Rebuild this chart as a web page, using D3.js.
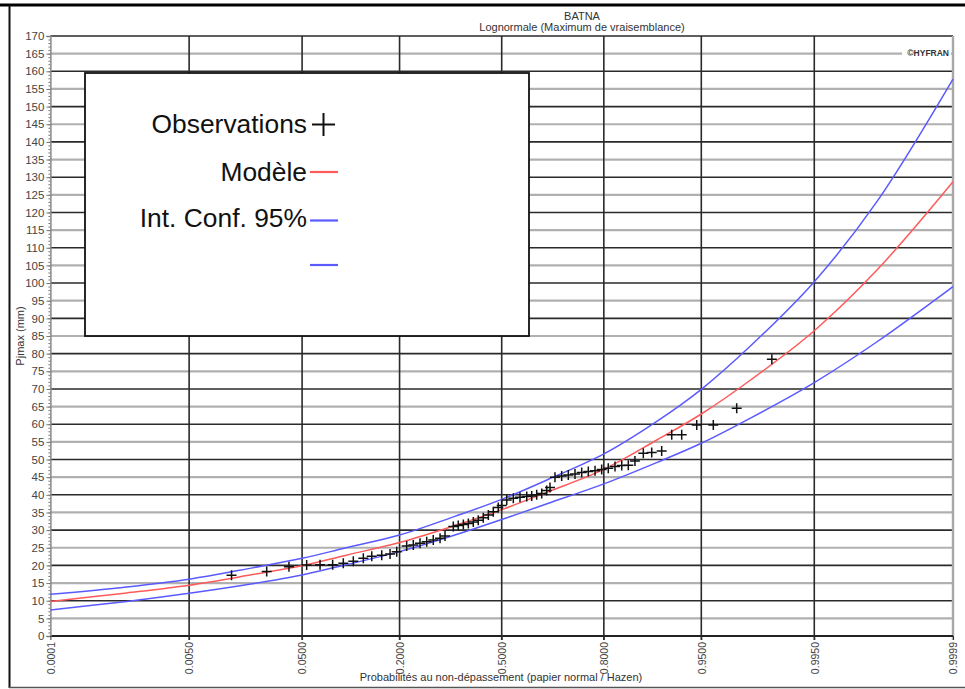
<!DOCTYPE html>
<html>
<head>
<meta charset="utf-8">
<script src="https://cdn.jsdelivr.net/npm/d3@7"></script>
<style>
  html, body { margin: 0; padding: 0; background: #fff; }
  svg { display: block; font-family: "Liberation Sans", Arial, sans-serif; }
</style>
</head>
<body>
<svg id="chart" width="965" height="689"></svg>
<script>
// Probability axis (normal paper) ticks
const xTickProbs = [0.0001, 0.005, 0.05, 0.2, 0.5, 0.8, 0.95, 0.995, 0.9999];
const xTickLabels = ["0.0001", "0.0050", "0.0500", "0.2000", "0.5000", "0.8000", "0.9500", "0.9950", "0.9999"];

// Fitted lognormal quantiles and 95% confidence bounds (Pjmax, mm)
const curveProbs  = [0.0001, 0.001, 0.005, 0.02, 0.05, 0.1, 0.2, 0.35, 0.5, 0.65, 0.8, 0.9, 0.95, 0.98, 0.995, 0.999, 0.9999];
const modelValues = [9.8, 12.2, 14.4, 17.4, 19.9, 22.9, 26.5, 31.3, 35.8, 40.9, 47.2, 55.6, 62.9, 72.6, 86.5, 103.6, 128.7];
const upperValues = [11.8, 13.9, 16.1, 19.3, 22.0, 25.0, 28.6, 33.9, 38.7, 44.4, 51.6, 60.9, 69.9, 82.3, 100.4, 123.0, 157.8];
const lowerValues = [7.4, 9.8, 12.1, 14.8, 17.3, 20.2, 23.9, 28.6, 33.0, 37.6, 43.1, 49.2, 54.6, 61.8, 71.8, 83.3, 99.0];

// Observed annual maxima with their non-exceedance probabilities
const obsProbs = [0.0130, 0.0264, 0.0398, 0.0540, 0.0672, 0.0818, 0.0959, 0.1107, 0.1271, 0.1421,
  0.1614, 0.1788, 0.1935, 0.2168, 0.2332, 0.2504, 0.2683, 0.2864, 0.3057, 0.3202,
  0.3450, 0.3602, 0.3760, 0.3917, 0.4075, 0.4235, 0.4396, 0.4562, 0.4724, 0.4888,
  0.5000, 0.5165, 0.5381, 0.5599, 0.5817, 0.5977, 0.6135, 0.6293, 0.6447, 0.6547,
  0.6697, 0.6894, 0.7085, 0.7271, 0.7451, 0.7623, 0.7791, 0.7950, 0.8101, 0.8248,
  0.8387, 0.8516, 0.8639, 0.8784, 0.8918, 0.9063, 0.9194, 0.9310, 0.9460, 0.9594,
  0.9736, 0.9870];
const obsValues = [17.2, 18.3, 19.6, 20.1, 20.2, 20.2, 20.6, 21.2, 22.0, 22.6,
  22.9, 23.2, 23.9, 25.5, 25.8, 26.3, 26.7, 27.2, 27.7, 28.3,
  31.0, 31.3, 31.6, 31.9, 32.3, 32.8, 33.5, 34.3, 35.2, 36.4,
  37.0, 38.5, 39.0, 39.3, 39.5, 39.7, 40.0, 40.4, 41.2, 42.1,
  45.0, 45.3, 45.6, 45.9, 46.3, 46.6, 46.8, 47.2, 47.5, 48.0,
  48.3, 48.4, 49.6, 51.8, 52.0, 52.4, 57.0, 57.0, 59.8, 59.8,
  64.5, 78.4];

const yMax = 170;
const yMajorStep = 5;

// Inverse standard normal CDF (Acklam's rational approximation)
function probit(p) {
  const a = [-3.969683028665376e+01, 2.209460984245205e+02, -2.759285104469687e+02, 1.383577518672690e+02, -3.066479806614716e+01, 2.506628277459239e+00];
  const b = [-5.447609879822406e+01, 1.615858368580409e+02, -1.556989798598866e+02, 6.680131188771972e+01, -1.328068155288572e+01];
  const c = [-7.784894002430293e-03, -3.223964580411365e-01, -2.400758277161838e+00, -2.549671348283449e+00, 4.374664141464968e+00, 2.938163982698783e+00];
  const d = [7.784695709041462e-03, 3.224671290700398e-01, 2.445134137142996e+00, 3.754408661907416e+00];
  const pl = 0.02425, ph = 1 - pl;
  let q, r;
  if (p < pl) {
    q = Math.sqrt(-2 * Math.log(p));
    return (((((c[0]*q+c[1])*q+c[2])*q+c[3])*q+c[4])*q+c[5]) / ((((d[0]*q+d[1])*q+d[2])*q+d[3])*q+1);
  }
  if (p > ph) {
    q = Math.sqrt(-2 * Math.log(1 - p));
    return -(((((c[0]*q+c[1])*q+c[2])*q+c[3])*q+c[4])*q+c[5]) / ((((d[0]*q+d[1])*q+d[2])*q+d[3])*q+1);
  }
  q = p - 0.5; r = q * q;
  return (((((a[0]*r+a[1])*r+a[2])*r+a[3])*r+a[4])*r+a[5])*q / (((((b[0]*r+b[1])*r+b[2])*r+b[3])*r+b[4])*r+1);
}

const svg = d3.select("#chart");
const W = 965, H = 689;
const plot = { left: 50.4, right: 953, top: 36, bottom: 636 };

svg.append("rect").attr("width", W).attr("height", H).attr("fill", "#fff");

// Outer frame
svg.append("line").attr("x1", 0).attr("x2", W).attr("y1", 5).attr("y2", 5)
  .attr("stroke", "#000").attr("stroke-width", 3);
svg.append("line").attr("x1", 9.5).attr("x2", 9.5).attr("y1", 5).attr("y2", 688)
  .attr("stroke", "#111").attr("stroke-width", 2);
svg.append("line").attr("x1", 9).attr("x2", W).attr("y1", 687.5).attr("y2", 687.5)
  .attr("stroke", "#555").attr("stroke-width", 1.5);

// Scales: x in standard normal variate, labelled by probability
const zScale = d3.scaleLinear()
  .domain([probit(xTickProbs[0]), probit(xTickProbs[xTickProbs.length - 1])])
  .range([plot.left, plot.right]);
const px = p => zScale(probit(p));
const y = d3.scaleLinear().domain([0, yMax]).range([plot.bottom, plot.top]);

// Horizontal grid every 5 mm
const gridH = svg.append("g");
d3.range(yMajorStep, yMax + 1, yMajorStep).forEach(v => {
  const major = v % 10 === 0;
  gridH.append("line")
    .attr("x1", plot.left).attr("x2", plot.right)
    .attr("y1", y(v)).attr("y2", y(v))
    .attr("stroke", major ? "#2a2a2a" : "#b0b0b0")
    .attr("stroke-width", major ? 1.6 : 2.2);
});

// Vertical grid at probability ticks
const gridV = svg.append("g");
xTickProbs.slice(1).forEach((p, i, arr) => {
  const last = i === arr.length - 1;
  gridV.append("line")
    .attr("x1", px(p)).attr("x2", px(p))
    .attr("y1", plot.top).attr("y2", plot.bottom + 4)
    .attr("stroke", last ? "#a8a8a8" : "#2a2a2a")
    .attr("stroke-width", last ? 2.4 : 1.6);
});

// Base line
svg.append("line")
  .attr("x1", plot.left).attr("x2", plot.right)
  .attr("y1", y(0)).attr("y2", y(0))
  .attr("stroke", "#222").attr("stroke-width", 1.8);

// Y axis: minor ticks every unit, labelled ticks every 5
const yMinor = d3.axisLeft(y).tickValues(d3.range(0, yMax + 1, 1)).tickSize(2).tickFormat("");
svg.append("g").attr("transform", `translate(${plot.left},0)`).call(yMinor)
  .call(g => g.select(".domain").remove())
  .call(g => g.selectAll("line").attr("stroke", "#777"));
const yAxis = d3.axisLeft(y).tickValues(d3.range(0, yMax + 1, yMajorStep)).tickSize(4).tickPadding(2);
svg.append("g").attr("transform", `translate(${plot.left},0)`).call(yAxis)
  .call(g => g.select(".domain").attr("stroke", "#888").attr("stroke-width", 1.5))
  .call(g => g.selectAll("line").attr("stroke", "#777"))
  .call(g => g.selectAll("text").attr("fill", "#444").attr("font-size", 11.5)
    .attr("font-family", "'Liberation Sans', Arial, sans-serif"));

// X axis labels, rotated
const xAxis = d3.axisBottom(zScale)
  .tickValues(xTickProbs.map(probit))
  .tickFormat((d, i) => xTickLabels[i])
  .tickSize(4);
svg.append("g").attr("transform", `translate(0,${plot.bottom})`).call(xAxis)
  .call(g => g.select(".domain").remove())
  .call(g => g.selectAll("line").attr("stroke", "#333"))
  .call(g => g.selectAll("text")
    .attr("fill", "#444").attr("font-size", 10.5)
    .attr("font-family", "'Liberation Sans', Arial, sans-serif")
    .attr("text-anchor", "end")
    .attr("transform", "rotate(-90)")
    .attr("x", -6).attr("y", 0).attr("dy", "0.36em"));

// Curves
const line = d3.line()
  .x(d => px(d[0]))
  .y(d => y(d[1]))
  .curve(d3.curveCatmullRom.alpha(0.5));
const series = [
  { values: upperValues, color: "#5a5aff" },
  { values: lowerValues, color: "#5a5aff" },
  { values: modelValues, color: "#ff5a5a" }
];
series.forEach(s => {
  svg.append("path")
    .datum(curveProbs.map((p, i) => [p, s.values[i]]))
    .attr("d", line)
    .attr("fill", "none")
    .attr("stroke", s.color)
    .attr("stroke-width", 1.5);
});

// Observations as crosses
const arm = 5;
const obs = svg.append("g").attr("stroke", "#111").attr("stroke-width", 1.5);
obsProbs.forEach((p, i) => {
  const cx = px(p), cy = y(obsValues[i]);
  obs.append("path").attr("d", `M${cx - arm},${cy}H${cx + arm}M${cx},${cy - arm}V${cy + arm}`);
});

// Legend
const lg = svg.append("g");
lg.append("rect").attr("x", 85).attr("y", 73).attr("width", 444).attr("height", 263)
  .attr("fill", "#fff").attr("stroke", "#111").attr("stroke-width", 1.8);
const lgText = (t, yy) => lg.append("text").attr("x", 307).attr("y", yy)
  .attr("text-anchor", "end").attr("font-size", 26.4).attr("fill", "#111").text(t);
lgText("Observations", 133);
lgText("Modèle", 181);
lgText("Int. Conf. 95%", 227);
lg.append("path").attr("d", "M312,124.5H335M323.5,113V136").attr("stroke", "#111").attr("stroke-width", 2);
lg.append("line").attr("x1", 310).attr("x2", 338).attr("y1", 172).attr("y2", 172)
  .attr("stroke", "#ff5a5a").attr("stroke-width", 2.2);
lg.append("line").attr("x1", 310).attr("x2", 338).attr("y1", 220.5).attr("y2", 220.5)
  .attr("stroke", "#5a5aff").attr("stroke-width", 2.2);
lg.append("line").attr("x1", 310).attr("x2", 338).attr("y1", 265).attr("y2", 265)
  .attr("stroke", "#5a5aff").attr("stroke-width", 2.2);

// Titles
svg.append("text").attr("x", 582).attr("y", 20).attr("text-anchor", "middle")
  .attr("font-size", 11).attr("fill", "#333").text("BATNA");
svg.append("text").attr("x", 582).attr("y", 31).attr("text-anchor", "middle")
  .attr("font-size", 11).attr("fill", "#333").text("Lognormale (Maximum de vraisemblance)");

// Axis titles
svg.append("text").attr("transform", `translate(24,${(plot.top + plot.bottom) / 2}) rotate(-90)`)
  .attr("text-anchor", "middle").attr("font-size", 11).attr("fill", "#333").text("Pjmax (mm)");
svg.append("text").attr("x", 501).attr("y", 681).attr("text-anchor", "middle")
  .attr("font-size", 11).attr("fill", "#333")
  .text("Probabilités au non-dépassement (papier normal / Hazen)");

// Software mark
svg.append("rect").attr("x", 902).attr("y", 47).attr("width", 49).attr("height", 10).attr("fill", "#fff");
svg.append("text").attr("x", 949).attr("y", 55.5).attr("text-anchor", "end")
  .attr("font-size", 8.5).attr("font-weight", "bold").attr("fill", "#333").text("©HYFRAN");
</script>
</body>
</html>
